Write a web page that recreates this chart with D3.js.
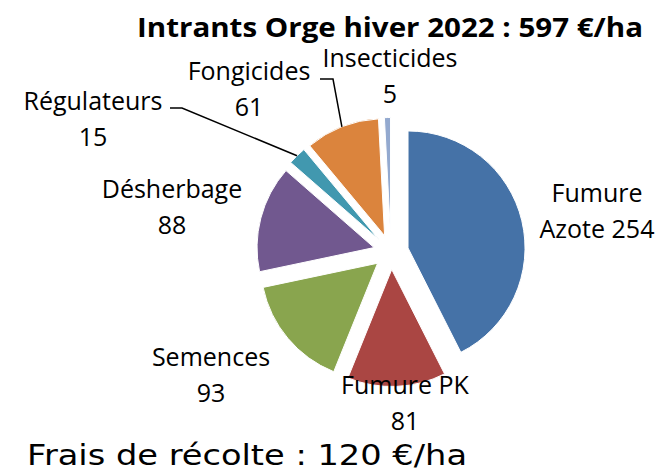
<!DOCTYPE html>
<html>
<head>
<meta charset="utf-8">
<title>Intrants Orge hiver 2022</title>
<style>
  body { margin: 0; background: #fff; }
  text { font-family: "Open Sans", sans-serif; fill: #000; }
</style>
</head>
<body>
<div id="chart"></div>
<script src="https://d3js.org/d3.v7.min.js"></script>
<script>

// data
var categories = ["Fumure Azote", "Fumure PK", "Semences", "Désherbage", "Régulateurs", "Fongicides", "Insecticides"];
var values = [254, 81, 93, 88, 15, 61, 5];
var colors = ["#4572A7", "#AA4643", "#89A54E", "#71588F", "#4198AF", "#DB843D", "#93A9CF"];
var labelLines = [["Fumure", "Azote 254"], ["Fumure PK", "81"], ["Semences", "93"], ["Désherbage", "88"],
                  ["Régulateurs", "15"], ["Fongicides", "61"], ["Insecticides", "5"]];

// layout of the labels (centre x, first baseline), and leader lines start
var labelPos = [[597, 202], [405, 394], [211, 366], [172, 198], [93, 110], [249, 80], [390, 67]];
var leaders = { 4: [[170, 108], [182, 108]], 5: [[320, 79], [333, 79]] };

var w = 661, h = 471;
var cx = 391, cy = 252, r = 117, explode = 17.5, lineGap = 36;

var svg = d3.select("#chart").append("svg")
    .attr("width", w).attr("height", h);

svg.append("text")
    .attr("x", 390).attr("y", 37)
    .attr("text-anchor", "middle")
    .attr("font-weight", "bold")
    .attr("font-size", 26)
    .attr("textLength", 506).attr("lengthAdjust", "spacingAndGlyphs")
    .text("Intrants Orge hiver 2022 : 597 €/ha");

var pie = d3.pie().sort(null)(values);
var arc = d3.arc().innerRadius(0).outerRadius(r);

function dir(a) { return [Math.sin(a), -Math.cos(a)]; }

var g = svg.append("g").attr("transform", "translate(" + cx + "," + cy + ")");

g.selectAll("path")
    .data(pie)
    .enter()
    .append("path")
    .attr("d", arc)
    .attr("transform", function(d) {
        var m = dir((d.startAngle + d.endAngle) / 2);
        return "translate(" + m[0] * explode + "," + m[1] * explode + ")";
    })
    .attr("fill", function(d, i) { return colors[i]; })
    .attr("stroke", "#fff")
    .attr("stroke-width", 1);

// leader lines
pie.forEach(function(d, i) {
    if (!leaders[i]) return;
    var m = dir((d.startAngle + d.endAngle) / 2);
    var end = [cx + m[0] * (explode + r), cy + m[1] * (explode + r)];
    var pts = leaders[i].concat([end]);
    svg.append("path")
        .attr("d", d3.line()(pts))
        .attr("fill", "none")
        .attr("stroke", "#000")
        .attr("stroke-width", 1.5);
});

// labels
var lab = svg.selectAll("text.lab")
    .data(labelLines)
    .enter()
    .append("text")
    .attr("class", "lab")
    .attr("text-anchor", "middle")
    .attr("font-size", 25);

lab.each(function(lines, i) {
    var t = d3.select(this);
    lines.forEach(function(s, k) {
        t.append("tspan")
            .attr("x", labelPos[i][0])
            .attr("y", labelPos[i][1] + k * lineGap)
            .text(s);
    });
});

svg.append("text")
    .attr("x", 27).attr("y", 465)
    .style("font-family", "'DejaVu Sans', sans-serif")
    .attr("font-size", 29)
    .attr("textLength", 440).attr("lengthAdjust", "spacingAndGlyphs")
    .text("Frais de récolte : 120 €/ha");

</script>
</body>
</html>
